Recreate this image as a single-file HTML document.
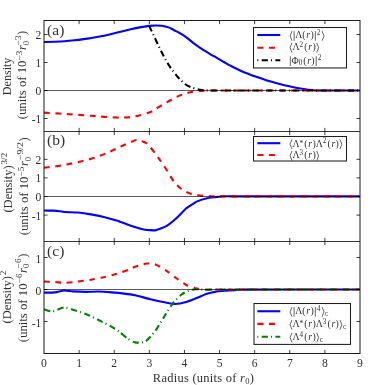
<!DOCTYPE html>
<html><head><meta charset="utf-8"><title>Figure</title>
<style>
html,body{margin:0;padding:0;background:#fff;}
body{width:374px;height:385px;overflow:hidden;font-family:"Liberation Serif",serif;}
svg{display:block;}
</style></head><body>
<svg width="374" height="385" viewBox="0 0 374 385">
<rect width="374" height="385" fill="#fff"/>
<defs>
<clipPath id="ca"><rect x="44" y="20.5" width="316" height="111"/></clipPath>
<clipPath id="cb"><rect x="44" y="131.5" width="316" height="110"/></clipPath>
<clipPath id="cc"><rect x="44" y="241.5" width="316" height="112"/></clipPath>
</defs>
<g clip-path="url(#ca)">
<path d="M44.00,41.95 C45.77,41.92 51.17,41.87 54.60,41.75 C58.03,41.63 61.27,41.50 64.60,41.25 C67.93,41.00 70.77,40.69 74.60,40.25 C78.43,39.81 83.43,39.23 87.60,38.60 C91.77,37.98 95.93,37.20 99.60,36.50 C103.27,35.80 106.27,35.15 109.60,34.40 C112.93,33.65 116.27,32.80 119.60,32.00 C122.93,31.20 126.27,30.37 129.60,29.60 C132.93,28.83 136.35,28.02 139.60,27.40 C142.85,26.78 146.43,26.22 149.10,25.90 C151.77,25.58 153.52,25.52 155.60,25.50 C157.68,25.48 159.93,25.62 161.60,25.80 C163.27,25.98 164.20,26.25 165.60,26.60 C167.00,26.95 168.65,27.33 170.00,27.90 C171.35,28.47 172.10,29.15 173.70,30.00 C175.30,30.85 177.60,31.87 179.60,33.00 C181.60,34.13 183.27,35.02 185.70,36.80 C188.13,38.58 191.35,41.55 194.20,43.70 C197.05,45.85 199.93,47.85 202.80,49.70 C205.67,51.55 209.20,53.53 211.40,54.80 C213.60,56.07 213.90,56.10 216.00,57.30 C218.10,58.50 221.87,60.75 224.00,62.00 C226.13,63.25 227.47,64.05 228.80,64.80 C230.13,65.55 229.85,65.43 232.00,66.50 C234.15,67.57 238.85,69.92 241.70,71.20 C244.55,72.48 246.55,73.22 249.10,74.20 C251.65,75.18 254.15,76.10 257.00,77.10 C259.85,78.10 263.20,79.27 266.20,80.20 C269.20,81.13 272.13,81.92 275.00,82.70 C277.87,83.48 280.90,84.28 283.40,84.90 C285.90,85.52 287.90,85.93 290.00,86.40 C292.10,86.87 294.00,87.30 296.00,87.70 C298.00,88.10 300.00,88.47 302.00,88.80 C304.00,89.13 306.00,89.46 308.00,89.70 C310.00,89.94 312.00,90.12 314.00,90.25 C316.00,90.38 312.33,90.46 320.00,90.50 C327.67,90.54 353.33,90.50 360.00,90.50" fill="none" stroke="#0000ff" stroke-width="2.1"   stroke-linejoin="round"/>
<path d="M44.00,112.65 C47.55,112.87 57.48,113.43 65.30,113.95 C73.12,114.47 84.35,115.27 90.90,115.75 C97.45,116.23 100.32,116.55 104.60,116.85 C108.88,117.15 113.32,117.43 116.60,117.55 C119.88,117.67 121.13,117.77 124.30,117.55 C127.47,117.33 131.32,117.14 135.60,116.25 C139.88,115.36 146.17,113.73 150.00,112.20 C153.83,110.67 155.75,108.77 158.60,107.10 C161.45,105.43 164.25,103.82 167.10,102.20 C169.95,100.58 172.85,98.78 175.70,97.40 C178.55,96.02 181.35,94.83 184.20,93.90 C187.05,92.97 189.93,92.30 192.80,91.80 C195.67,91.30 198.53,91.11 201.40,90.90 C204.27,90.69 206.63,90.62 210.00,90.55 C213.37,90.48 219.67,90.51 221.60,90.50" fill="none" stroke="#ff0000" stroke-width="2.1" stroke-dasharray="5.856 5.608"  stroke-linejoin="round"/>
<path d="M221.60,90.50 L360.00,90.50" fill="none" stroke="#ff0000" stroke-width="2.1" stroke-dasharray="5.9 5.65"  stroke-linejoin="round"/>
<path d="M149.10,25.90 C149.82,27.38 151.58,30.98 153.40,34.80 C155.22,38.62 157.60,44.02 160.00,48.80 C162.40,53.58 165.07,59.07 167.80,63.50 C170.53,67.93 173.53,71.98 176.40,75.40 C179.27,78.82 182.15,81.90 185.00,84.00 C187.85,86.10 190.67,87.00 193.50,88.00 C196.33,89.00 199.25,89.59 202.00,90.00 C204.75,90.41 206.17,90.37 210.00,90.45 C213.83,90.53 222.50,90.49 225.00,90.50" fill="none" stroke="#000000" stroke-width="2.1" stroke-dasharray="6.251 3.075 1.008 3.428"  stroke-linejoin="round"/>
<path d="M225.00,90.50 L360.00,90.50" fill="none" stroke="#000000" stroke-width="2.1" stroke-dasharray="6.2 3.05 1 3.4"  stroke-linejoin="round"/>
</g>
<g clip-path="url(#cb)">
<path d="M44.00,210.55 C44.45,210.56 52.20,210.62 53.00,210.65 C53.80,210.68 59.38,211.13 60.00,211.20 C60.62,211.27 64.39,211.98 65.30,212.05 C66.20,212.12 76.82,212.44 78.10,212.55 C79.38,212.67 89.62,214.13 90.90,214.35 C92.19,214.57 102.52,216.64 103.80,216.95 C105.08,217.26 115.32,220.14 116.60,220.55 C117.88,220.96 128.45,224.81 129.40,225.15 C130.35,225.49 134.81,227.02 135.60,227.25 C136.39,227.48 144.31,229.59 145.30,229.75 C146.30,229.91 154.47,230.51 155.50,230.35 C156.53,230.19 164.77,227.04 165.80,226.45 C166.83,225.85 175.07,219.36 176.10,218.45 C177.12,217.54 185.28,209.14 186.30,208.30 C187.33,207.46 195.57,202.10 196.60,201.60 C197.63,201.09 205.95,198.42 206.90,198.20 C207.85,197.98 214.72,197.25 215.60,197.15 C216.48,197.05 223.65,196.29 224.60,196.25 C225.55,196.21 227.85,196.39 234.60,196.40 C241.35,196.41 353.35,196.40 359.60,196.40" fill="none" stroke="#0000ff" stroke-width="2.1"   stroke-linejoin="round"/>
<path d="M44.00,167.85 C47.55,167.33 57.48,166.25 65.30,164.75 C73.12,163.25 83.52,161.00 90.90,158.85 C98.28,156.70 104.35,154.03 109.60,151.85 C114.85,149.67 118.12,147.67 122.40,145.75 C126.68,143.83 132.43,141.22 135.30,140.35 C138.17,139.48 138.32,140.33 139.60,140.55 C140.88,140.77 141.58,140.95 143.00,141.65 C144.42,142.35 145.97,142.66 148.10,144.75 C150.23,146.84 153.77,151.57 155.80,154.20 C157.83,156.82 158.42,157.75 160.30,160.50 C162.18,163.25 164.82,167.17 167.10,170.70 C169.38,174.23 171.72,178.73 174.00,181.70 C176.28,184.67 178.23,186.58 180.80,188.50 C183.37,190.42 186.25,192.03 189.40,193.20 C192.55,194.37 196.27,194.98 199.70,195.50 C203.13,196.02 206.62,196.15 210.00,196.30 C213.38,196.45 218.33,196.38 220.00,196.40" fill="none" stroke="#ff0000" stroke-width="2.1" stroke-dasharray="5.834 5.587"  stroke-linejoin="round"/>
<path d="M220.00,196.40 L360.00,196.40" fill="none" stroke="#ff0000" stroke-width="2.1" stroke-dasharray="5.9 5.65"  stroke-linejoin="round"/>
</g>
<g clip-path="url(#cc)">
<path d="M44.00,292.65 C45.28,292.62 52.67,292.60 55.00,292.35 C57.33,292.10 61.90,290.62 64.00,290.50 C66.10,290.38 70.46,291.19 73.00,291.35 C75.54,291.51 82.81,291.83 85.80,291.85 C88.79,291.87 95.60,291.49 98.60,291.55 C101.60,291.61 108.50,292.11 111.50,292.35 C114.50,292.60 121.56,293.31 124.30,293.65 C127.04,293.99 131.96,294.61 135.00,295.25 C138.04,295.89 146.81,298.31 150.40,299.15 C153.99,299.99 162.95,301.89 165.80,302.45 C168.65,303.01 172.41,304.01 174.80,303.95 C177.19,303.89 183.76,302.64 186.30,301.95 C188.84,301.26 194.20,299.00 196.60,298.05 C199.00,297.11 204.75,294.57 206.90,293.85 C209.05,293.13 212.85,292.26 215.00,291.90 C217.15,291.54 222.90,291.01 225.30,290.80 C227.70,290.59 233.19,290.23 235.60,290.10 C238.01,289.97 231.53,289.72 246.00,289.65 C260.47,289.58 346.35,289.52 359.60,289.50" fill="none" stroke="#0000ff" stroke-width="2.1"   stroke-linejoin="round"/>
<path d="M44.00,281.55 C45.47,281.62 52.16,281.88 55.00,282.05 C57.84,282.22 62.22,282.92 65.30,282.85 C68.38,282.78 74.69,281.96 78.10,281.55 C81.51,281.14 87.47,280.32 90.90,279.75 C94.33,279.18 100.37,278.04 103.80,277.25 C107.23,276.46 113.19,274.88 116.60,273.85 C120.01,272.82 126.95,270.50 129.40,269.55 C131.85,268.60 132.71,267.55 135.00,266.75 C137.29,265.95 143.87,263.86 146.60,263.55 C149.33,263.24 152.94,263.54 155.50,264.45 C158.06,265.36 163.05,268.54 165.80,270.35 C168.55,272.16 173.37,276.05 176.10,278.00 C178.83,279.95 183.57,283.61 186.30,285.00 C189.03,286.39 193.85,287.77 196.60,288.40 C199.35,289.03 204.50,289.60 206.90,289.75 C209.30,289.90 211.87,289.53 214.60,289.50 C217.33,289.47 225.69,289.50 227.40,289.50" fill="none" stroke="#ff0000" stroke-width="2.1" stroke-dasharray="5.807 5.560"  stroke-linejoin="round"/>
<path d="M227.40,289.50 L359.60,289.50" fill="none" stroke="#ff0000" stroke-width="2.1" stroke-dasharray="5.9 5.65"  stroke-linejoin="round"/>
<path d="M44.00,309.25 C44.98,309.50 50.07,311.56 52.40,311.35 C54.73,311.14 61.60,307.64 64.00,307.45 C66.40,307.26 70.46,308.99 73.00,309.75 C75.54,310.51 82.81,312.75 85.80,313.95 C88.79,315.15 95.60,318.57 98.60,320.05 C101.60,321.53 109.05,325.21 111.50,326.60 C113.95,327.99 117.76,330.63 119.60,332.00 C121.44,333.37 125.50,337.09 127.30,338.30 C129.10,339.51 132.90,342.03 135.00,342.40 C137.10,342.77 142.91,342.87 145.30,341.50 C147.69,340.13 153.11,333.85 155.50,330.65 C157.89,327.45 163.70,317.34 165.80,314.05 C167.90,310.76 171.70,304.70 173.50,302.45 C175.30,300.20 179.40,296.14 181.20,294.75 C183.00,293.36 187.10,291.14 188.90,290.50 C190.70,289.86 194.50,289.34 196.60,289.25 C198.70,289.16 204.80,289.72 206.90,289.75 C209.00,289.78 211.46,289.53 214.60,289.50 C217.74,289.47 231.56,289.50 233.80,289.50" fill="none" stroke="#008000" stroke-width="2.1" stroke-dasharray="6.374 3.136 1.028 3.495"  stroke-linejoin="round"/>
<path d="M233.80,289.50 L359.60,289.50" fill="none" stroke="#008000" stroke-width="2.1" stroke-dasharray="6.2 3.05 1 3.4"  stroke-linejoin="round"/>
</g>
<line x1="44" x2="360" y1="90.5" y2="90.5" stroke="#000" stroke-width="0.65"/>
<line x1="44" x2="360" y1="196.5" y2="196.5" stroke="#000" stroke-width="0.65"/>
<line x1="44" x2="360" y1="289.5" y2="289.5" stroke="#000" stroke-width="0.65"/>
<rect x="44" y="20.5" width="316" height="333" stroke="#1c1c1c" stroke-width="1" fill="none"/>
<line x1="44" x2="360" y1="131.5" y2="131.5" stroke="#222" stroke-width="0.9"/>
<line x1="44" x2="360" y1="241.5" y2="241.5" stroke="#222" stroke-width="0.9"/>
<path d="M79.11,20.50 L79.11,24.10 M79.11,127.90 L79.11,135.10 M79.11,237.90 L79.11,245.10 M79.11,349.90 L79.11,353.50 M114.22,20.50 L114.22,24.10 M114.22,127.90 L114.22,135.10 M114.22,237.90 L114.22,245.10 M114.22,349.90 L114.22,353.50 M149.33,20.50 L149.33,24.10 M149.33,127.90 L149.33,135.10 M149.33,237.90 L149.33,245.10 M149.33,349.90 L149.33,353.50 M184.44,20.50 L184.44,24.10 M184.44,127.90 L184.44,135.10 M184.44,237.90 L184.44,245.10 M184.44,349.90 L184.44,353.50 M219.56,20.50 L219.56,24.10 M219.56,127.90 L219.56,135.10 M219.56,237.90 L219.56,245.10 M219.56,349.90 L219.56,353.50 M254.67,20.50 L254.67,24.10 M254.67,127.90 L254.67,135.10 M254.67,237.90 L254.67,245.10 M254.67,349.90 L254.67,353.50 M289.78,20.50 L289.78,24.10 M289.78,127.90 L289.78,135.10 M289.78,237.90 L289.78,245.10 M289.78,349.90 L289.78,353.50 M324.89,20.50 L324.89,24.10 M324.89,127.90 L324.89,135.10 M324.89,237.90 L324.89,245.10 M324.89,349.90 L324.89,353.50 M44.00,34.50 L47.60,34.50 M356.40,34.50 L360.00,34.50 M44.00,62.50 L47.60,62.50 M356.40,62.50 L360.00,62.50 M44.00,90.50 L47.60,90.50 M356.40,90.50 L360.00,90.50 M44.00,118.50 L47.60,118.50 M356.40,118.50 L360.00,118.50 M44.00,159.30 L47.60,159.30 M356.40,159.30 L360.00,159.30 M44.00,177.90 L47.60,177.90 M356.40,177.90 L360.00,177.90 M44.00,196.50 L47.60,196.50 M356.40,196.50 L360.00,196.50 M44.00,215.10 L47.60,215.10 M356.40,215.10 L360.00,215.10 M44.00,257.50 L47.60,257.50 M356.40,257.50 L360.00,257.50 M44.00,289.50 L47.60,289.50 M356.40,289.50 L360.00,289.50 M44.00,321.50 L47.60,321.50 M356.40,321.50 L360.00,321.50" stroke="#000" stroke-width="0.75" fill="none"/>
<g font-family="Liberation Serif, serif" fill="#303030" opacity="0.99">
<text x="44.00" y="366.9" font-size="11.6" text-anchor="middle">0</text>
<text x="79.11" y="366.9" font-size="11.6" text-anchor="middle">1</text>
<text x="114.22" y="366.9" font-size="11.6" text-anchor="middle">2</text>
<text x="149.33" y="366.9" font-size="11.6" text-anchor="middle">3</text>
<text x="184.44" y="366.9" font-size="11.6" text-anchor="middle">4</text>
<text x="219.56" y="366.9" font-size="11.6" text-anchor="middle">5</text>
<text x="254.67" y="366.9" font-size="11.6" text-anchor="middle">6</text>
<text x="289.78" y="366.9" font-size="11.6" text-anchor="middle">7</text>
<text x="324.89" y="366.9" font-size="11.6" text-anchor="middle">8</text>
<text x="360.00" y="366.9" font-size="11.6" text-anchor="middle">9</text>
<text x="41.4" y="38.90" font-size="11.6" text-anchor="end">2</text>
<text x="41.4" y="66.90" font-size="11.6" text-anchor="end">1</text>
<text x="41.4" y="94.90" font-size="11.6" text-anchor="end">0</text>
<text x="41.4" y="122.90" font-size="11.6" text-anchor="end">-1</text>
<text x="41.4" y="163.70" font-size="11.6" text-anchor="end">2</text>
<text x="41.4" y="182.30" font-size="11.6" text-anchor="end">1</text>
<text x="41.4" y="200.90" font-size="11.6" text-anchor="end">0</text>
<text x="41.4" y="219.50" font-size="11.6" text-anchor="end">-1</text>
<text x="41.4" y="262.70" font-size="11.6" text-anchor="end">1</text>
<text x="41.4" y="294.70" font-size="11.6" text-anchor="end">0</text>
<text x="41.4" y="326.70" font-size="11.6" text-anchor="end">-1</text>
<text x="152.8" y="381.7" font-size="12.5" textLength="101" lengthAdjust="spacing">Radius (units of <tspan font-style="italic">r</tspan><tspan font-size="8.5" dy="2">0</tspan><tspan dy="-2">)</tspan></text>
<text x="47.1" y="34.8" font-size="15.5">(a)</text>
<text x="47.1" y="145.4" font-size="15.5">(b)</text>
<text x="47.1" y="256.1" font-size="15.5">(c)</text>
<g transform="translate(10.9,95.2) rotate(-90)"><text x="0.00" y="0.00" font-size="12.4" textLength="37.6" lengthAdjust="spacingAndGlyphs">Density</text></g>
<g transform="translate(26.4,119.3) rotate(-90)"><text x="0.00" y="0.00" font-size="12.4" textLength="58.7" lengthAdjust="spacingAndGlyphs">(units of 10</text><text x="59.10" y="-4.80" font-size="8.6" textLength="9.6" lengthAdjust="spacingAndGlyphs">−3</text><text x="69.20" y="0.00" font-size="12.4" font-style="italic">r</text><text x="74.10" y="2.60" font-size="8.6">0</text><text x="74.00" y="-5.30" font-size="8.6" textLength="9.8" lengthAdjust="spacingAndGlyphs">−3</text><text x="84.40" y="0.00" font-size="12.4">)</text></g>
<g transform="translate(11.8,212.6) rotate(-90)"><text x="0.00" y="0.00" font-size="12.4" textLength="47.4" lengthAdjust="spacingAndGlyphs">(Density)</text><text x="48.20" y="-5.30" font-size="8.6" textLength="11.6" lengthAdjust="spacingAndGlyphs">3/2</text></g>
<g transform="translate(28.3,235.3) rotate(-90)"><text x="0.00" y="0.00" font-size="12.4" textLength="58.7" lengthAdjust="spacingAndGlyphs">(units of 10</text><text x="59.10" y="-4.80" font-size="8.6" textLength="9.6" lengthAdjust="spacingAndGlyphs">−5</text><text x="69.20" y="0.00" font-size="12.4" font-style="italic">r</text><text x="74.10" y="2.60" font-size="8.6">0</text><text x="75.20" y="-5.30" font-size="8.6" textLength="18" lengthAdjust="spacingAndGlyphs">−9/2</text><text x="93.80" y="0.00" font-size="12.4">)</text></g>
<g transform="translate(11.2,323.4) rotate(-90)"><text x="0.00" y="0.00" font-size="12.4" textLength="47.4" lengthAdjust="spacingAndGlyphs">(Density)</text><text x="48.40" y="-5.30" font-size="8.6">2</text></g>
<g transform="translate(26.6,342.2) rotate(-90)"><text x="0.00" y="0.00" font-size="12.4" textLength="58.7" lengthAdjust="spacingAndGlyphs">(units of 10</text><text x="59.10" y="-4.80" font-size="8.6" textLength="9.6" lengthAdjust="spacingAndGlyphs">−6</text><text x="69.20" y="0.00" font-size="12.4" font-style="italic">r</text><text x="74.10" y="2.60" font-size="8.6">0</text><text x="74.00" y="-5.30" font-size="8.6" textLength="9.8" lengthAdjust="spacingAndGlyphs">−6</text><text x="84.40" y="0.00" font-size="12.4">)</text></g>
<rect x="253.5" y="27.5" width="93" height="40.45" fill="#fff" stroke="#1c1c1c" stroke-width="1.05"/>
<line x1="257.3" x2="280.3" y1="35" y2="35" stroke="#0000ff" stroke-width="2.1" />
<text x="298.79" y="38.35" font-size="9.9" text-anchor="middle">Λ</text><text x="304.01" y="38.35" font-size="9.9" text-anchor="middle">(</text><text x="308.26" y="38.35" font-size="9.9" text-anchor="middle" font-style="italic">r</text><text x="312.12" y="38.35" font-size="9.9" text-anchor="middle">)</text><text x="318.61" y="34.88" font-size="7.2" text-anchor="middle">2</text><path d="M291.99,31.11 L290.06,35.94 L291.99,40.76 M294.10,31.11 L294.10,40.76 M315.33,31.11 L315.33,40.76 M322.08,31.11 L324.01,35.94 L322.08,40.76" fill="none" stroke="#303030" stroke-width="0.75"/>
<line x1="257.3" x2="280.3" y1="47.7" y2="47.7" stroke="#ff0000" stroke-width="2.1" stroke-dasharray="6.2 5.4"/>
<text x="296.10" y="50.10" font-size="9.9" text-anchor="middle">Λ</text><text x="301.38" y="46.63" font-size="7.2" text-anchor="middle">2</text><text x="305.96" y="50.10" font-size="9.9" text-anchor="middle">(</text><text x="310.21" y="50.10" font-size="9.9" text-anchor="middle" font-style="italic">r</text><text x="314.07" y="50.10" font-size="9.9" text-anchor="middle">)</text><path d="M291.99,42.86 L290.06,47.69 L291.99,52.51 M316.71,42.86 L318.64,47.69 L316.71,52.51" fill="none" stroke="#303030" stroke-width="0.75"/>
<line x1="257.3" x2="280.3" y1="60.3" y2="60.3" stroke="#000" stroke-width="2.1" stroke-dasharray="1 3.4 6.2 3.1"/>
<text x="295.17" y="63.60" font-size="9.9" text-anchor="middle">Φ</text><text x="300.58" y="65.24" font-size="7.2" text-anchor="middle">0</text><text x="304.87" y="63.60" font-size="9.9" text-anchor="middle">(</text><text x="309.12" y="63.60" font-size="9.9" text-anchor="middle" font-style="italic">r</text><text x="312.98" y="63.60" font-size="9.9" text-anchor="middle">)</text><text x="319.47" y="60.13" font-size="7.2" text-anchor="middle">2</text><path d="M290.34,56.36 L290.34,66.01 M316.19,56.36 L316.19,66.01" fill="none" stroke="#303030" stroke-width="0.75"/>
<rect x="253.5" y="136.5" width="93" height="24.5" fill="#fff" stroke="#1c1c1c" stroke-width="1.05"/>
<line x1="257.3" x2="280.3" y1="143.2" y2="143.2" stroke="#0000ff" stroke-width="2.1" />
<text x="296.10" y="146.60" font-size="9.9" text-anchor="middle">Λ</text><text x="301.38" y="145.70" font-size="7.6" text-anchor="middle">*</text><text x="305.96" y="146.60" font-size="9.9" text-anchor="middle">(</text><text x="310.21" y="146.60" font-size="9.9" text-anchor="middle" font-style="italic">r</text><text x="314.07" y="146.60" font-size="9.9" text-anchor="middle">)</text><text x="319.29" y="146.60" font-size="9.9" text-anchor="middle">Λ</text><text x="324.57" y="143.13" font-size="7.2" text-anchor="middle">2</text><text x="329.15" y="146.60" font-size="9.9" text-anchor="middle">(</text><text x="333.40" y="146.60" font-size="9.9" text-anchor="middle" font-style="italic">r</text><text x="337.25" y="146.60" font-size="9.9" text-anchor="middle">)</text><path d="M291.99,139.36 L290.06,144.19 L291.99,149.01 M339.90,139.36 L341.83,144.19 L339.90,149.01" fill="none" stroke="#303030" stroke-width="0.75"/>
<line x1="257.3" x2="280.3" y1="155" y2="155" stroke="#ff0000" stroke-width="2.1" stroke-dasharray="6.2 5.4"/>
<text x="296.10" y="158.20" font-size="9.9" text-anchor="middle">Λ</text><text x="301.38" y="154.73" font-size="7.2" text-anchor="middle">3</text><text x="305.96" y="158.20" font-size="9.9" text-anchor="middle">(</text><text x="310.21" y="158.20" font-size="9.9" text-anchor="middle" font-style="italic">r</text><text x="314.07" y="158.20" font-size="9.9" text-anchor="middle">)</text><path d="M291.99,150.96 L290.06,155.79 L291.99,160.61 M316.71,150.96 L318.64,155.79 L316.71,160.61" fill="none" stroke="#303030" stroke-width="0.75"/>
<rect x="254" y="303.5" width="96.5" height="40.9" fill="#fff" stroke="#1c1c1c" stroke-width="1.05"/>
<line x1="257.3" x2="280.3" y1="311.25" y2="311.25" stroke="#0000ff" stroke-width="2.1" />
<text x="298.79" y="314.30" font-size="9.9" text-anchor="middle">Λ</text><text x="304.01" y="314.30" font-size="9.9" text-anchor="middle">(</text><text x="308.26" y="314.30" font-size="9.9" text-anchor="middle" font-style="italic">r</text><text x="312.12" y="314.30" font-size="9.9" text-anchor="middle">)</text><text x="318.61" y="310.83" font-size="7.2" text-anchor="middle">4</text><text x="326.70" y="315.94" font-size="7.2" text-anchor="middle">c</text><path d="M291.99,307.06 L290.06,311.89 L291.99,316.71 M294.10,307.06 L294.10,316.71 M315.33,307.06 L315.33,316.71 M322.08,307.06 L324.01,311.89 L322.08,316.71" fill="none" stroke="#303030" stroke-width="0.75"/>
<line x1="257.3" x2="280.3" y1="323.9" y2="323.9" stroke="#ff0000" stroke-width="2.1" stroke-dasharray="6.2 5.4"/>
<text x="296.10" y="327.20" font-size="9.9" text-anchor="middle">Λ</text><text x="301.38" y="326.30" font-size="7.6" text-anchor="middle">*</text><text x="305.96" y="327.20" font-size="9.9" text-anchor="middle">(</text><text x="310.21" y="327.20" font-size="9.9" text-anchor="middle" font-style="italic">r</text><text x="314.07" y="327.20" font-size="9.9" text-anchor="middle">)</text><text x="319.29" y="327.20" font-size="9.9" text-anchor="middle">Λ</text><text x="324.57" y="323.73" font-size="7.2" text-anchor="middle">3</text><text x="329.15" y="327.20" font-size="9.9" text-anchor="middle">(</text><text x="333.40" y="327.20" font-size="9.9" text-anchor="middle" font-style="italic">r</text><text x="337.25" y="327.20" font-size="9.9" text-anchor="middle">)</text><text x="344.53" y="328.84" font-size="7.2" text-anchor="middle">c</text><path d="M291.99,319.96 L290.06,324.79 L291.99,329.61 M339.90,319.96 L341.83,324.79 L339.90,329.61" fill="none" stroke="#303030" stroke-width="0.75"/>
<line x1="257.3" x2="280.3" y1="336.7" y2="336.7" stroke="#008000" stroke-width="2.1" stroke-dasharray="1 3.4 6.2 3.1"/>
<text x="296.10" y="340.00" font-size="9.9" text-anchor="middle">Λ</text><text x="301.38" y="336.53" font-size="7.2" text-anchor="middle">4</text><text x="305.96" y="340.00" font-size="9.9" text-anchor="middle">(</text><text x="310.21" y="340.00" font-size="9.9" text-anchor="middle" font-style="italic">r</text><text x="314.07" y="340.00" font-size="9.9" text-anchor="middle">)</text><text x="321.34" y="341.64" font-size="7.2" text-anchor="middle">c</text><path d="M291.99,332.76 L290.06,337.59 L291.99,342.41 M316.71,332.76 L318.64,337.59 L316.71,342.41" fill="none" stroke="#303030" stroke-width="0.75"/>
</g>
</svg>
</body></html>
